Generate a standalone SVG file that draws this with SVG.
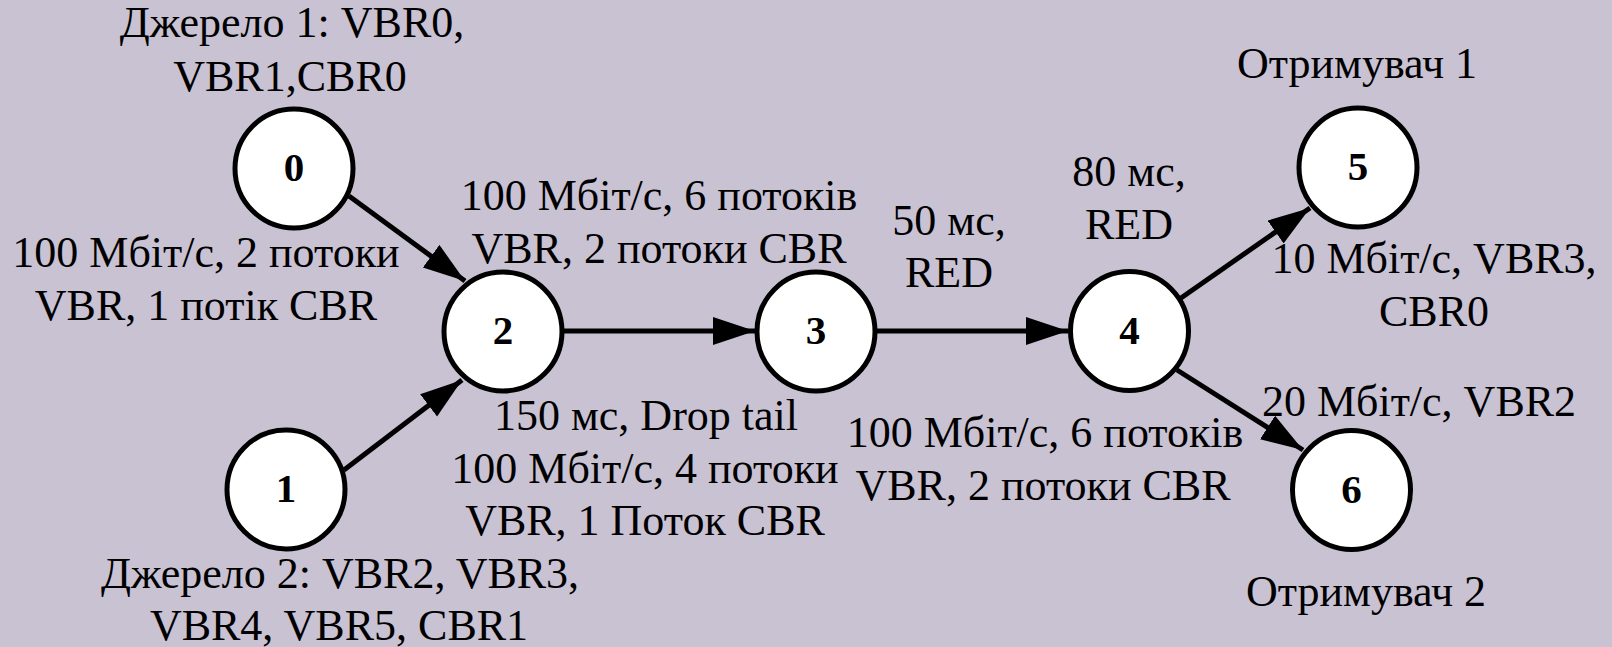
<svg xmlns="http://www.w3.org/2000/svg" width="1612" height="647" viewBox="0 0 1612 647">
<style>
.lbl{font-family:Times,"Liberation Serif","Times New Roman",serif;font-size:44px;fill:#000;text-anchor:middle}
.num{font-family:Times,"Liberation Serif","Times New Roman",serif;font-size:41px;font-weight:bold;fill:#000;text-anchor:middle}
.node{fill:#fff;stroke:#000;stroke-width:5}
.edge{stroke:#000;stroke-width:5;fill:none}
</style>
<defs>
<marker id="arr" markerUnits="userSpaceOnUse" markerWidth="44" markerHeight="30" refX="42" refY="14" orient="auto">
<path d="M0,0 L42,14 L0,28 z" fill="#000"/>
</marker>
</defs>
<rect width="1612" height="647" fill="#c9c2d3"/>
<g id="connectors">
<line class="edge" x1="349" y1="196" x2="465" y2="281" marker-end="url(#arr)"/>
<line class="edge" x1="344" y1="470" x2="462" y2="380" marker-end="url(#arr)"/>
<line class="edge" x1="564" y1="331" x2="755" y2="331" marker-end="url(#arr)"/>
<line class="edge" x1="877" y1="331" x2="1068" y2="331" marker-end="url(#arr)"/>
<line class="edge" x1="1181" y1="298" x2="1310" y2="208" marker-end="url(#arr)"/>
<line class="edge" x1="1177" y1="370" x2="1303" y2="450" marker-end="url(#arr)"/>
</g>
<g id="node0"><ellipse class="node" cx="294" cy="168.5" rx="59" ry="59.5"/><text class="num" x="294" y="181">0</text></g>
<g id="node1"><ellipse class="node" cx="286" cy="489.5" rx="59" ry="59.5"/><text class="num" x="286" y="502">1</text></g>
<g id="node2"><ellipse class="node" cx="503" cy="331.5" rx="59" ry="59.5"/><text class="num" x="503" y="344">2</text></g>
<g id="node3"><ellipse class="node" cx="816" cy="331.5" rx="59" ry="59.5"/><text class="num" x="816" y="344">3</text></g>
<g id="node4"><ellipse class="node" cx="1129.5" cy="331" rx="59" ry="59.5"/><text class="num" x="1129.5" y="343.5">4</text></g>
<g id="node5"><ellipse class="node" cx="1358" cy="167.5" rx="59" ry="59.5"/><text class="num" x="1358" y="180">5</text></g>
<g id="node6"><ellipse class="node" cx="1351.5" cy="490" rx="59" ry="59.5"/><text class="num" x="1351.5" y="502.5">6</text></g>
<g id="labels">
<text class="lbl" x="292" y="37">Джерело 1: VBR0,</text>
<text class="lbl" x="290" y="91">VBR1,CBR0</text>
<text class="lbl" x="206" y="267">100 Мбіт/с, 2 потоки</text>
<text class="lbl" x="206" y="320">VBR, 1 потік CBR</text>
<text class="lbl" x="659" y="210">100 Мбіт/с, 6 потоків</text>
<text class="lbl" x="659" y="263">VBR, 2 потоки CBR</text>
<text class="lbl" x="949" y="235">50 мс,</text>
<text class="lbl" x="949" y="287">RED</text>
<text class="lbl" x="1129" y="186">80 мс,</text>
<text class="lbl" x="1129" y="239">RED</text>
<text class="lbl" x="1357" y="78">Отримувач 1</text>
<text class="lbl" x="1434" y="273">10 Мбіт/с, VBR3,</text>
<text class="lbl" x="1434" y="326">CBR0</text>
<text class="lbl" x="1419" y="416">20 Мбіт/с, VBR2</text>
<text class="lbl" x="1045" y="447">100 Мбіт/с, 6 потоків</text>
<text class="lbl" x="1043" y="500">VBR, 2 потоки CBR</text>
<text class="lbl" x="646" y="430">150 мс, Drop tail</text>
<text class="lbl" x="645" y="483">100 Мбіт/с, 4 потоки</text>
<text class="lbl" x="645" y="535">VBR, 1 Поток CBR</text>
<text class="lbl" x="340" y="588">Джерело 2: VBR2, VBR3,</text>
<text class="lbl" x="339" y="640">VBR4, VBR5, CBR1</text>
<text class="lbl" x="1366" y="606">Отримувач 2</text>
</g>
</svg>
